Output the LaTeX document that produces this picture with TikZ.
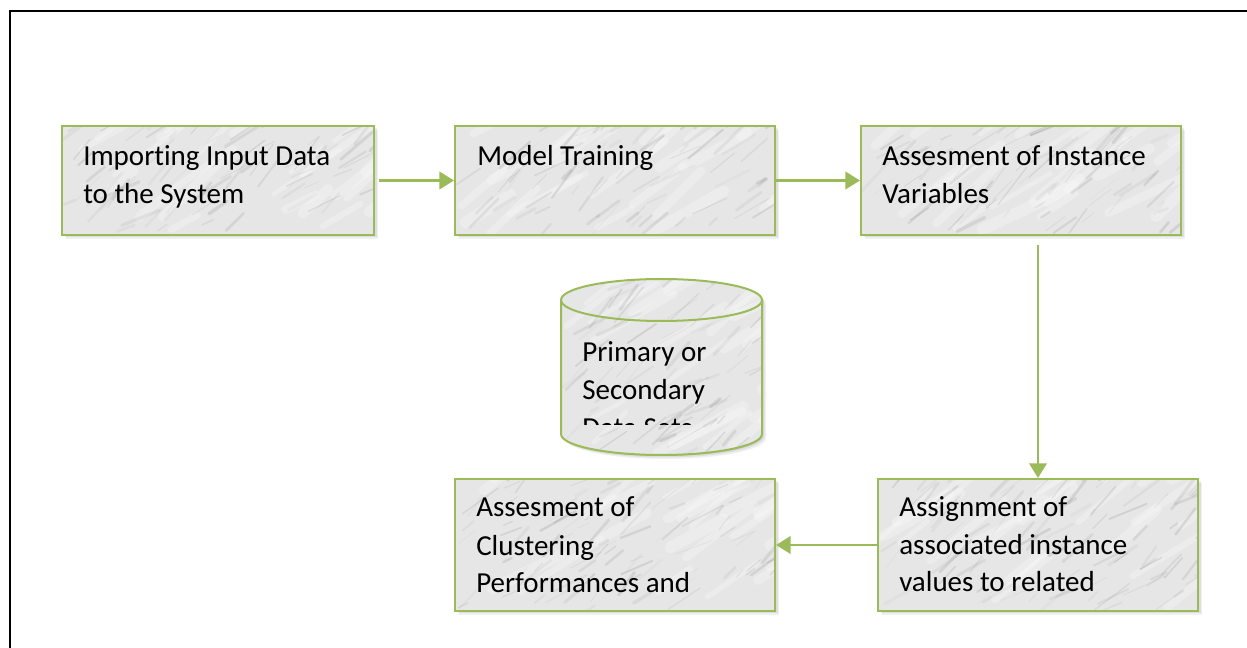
\documentclass[tikz,border=0pt]{standalone}
\usepackage{fontspec}
\setmainfont[Ligatures=CommonOff]{Carlito}
\usetikzlibrary{arrows.meta,fit,calc}
\definecolor{boxgreen}{HTML}{9BBB59}
\definecolor{marblebase}{HTML}{E6E6E6}
\tikzset{
  boxframe/.style={draw=boxgreen, line width=1.5pt, inner sep=0pt},
  txt/.style={font=\fontsize{21.75pt}{28.5pt}\selectfont, align=left, inner sep=0pt, anchor=base west, text=black},
  arr/.style={draw=boxgreen, line width=2.2pt, -{Triangle[length=11pt,width=13pt]}},
  vein/.style={black!65, line cap=round},
}
\newcommand{\veins}[4]{%
  \pgfmathsetmacro{\vn}{int(((#3)-(#1))/30*((#4)-(#2))/15)}%
  \foreach \i in {1,...,24}{%
    \pgfmathsetmacro{\px}{#1+((#3)-(#1))*rnd}%
    \pgfmathsetmacro{\py}{#2+((#4)-(#2))*rnd}%
    \pgfmathsetmacro{\ll}{30+70*rnd}%
    \pgfmathsetmacro{\ang}{-25-20*rnd}%
    \pgfmathsetmacro{\lw}{3+6*rnd}%
    \draw[white, line cap=round, line width=\lw pt, opacity=0.25] (\px,\py) -- ++(\ang:\ll);
  }%
  \foreach \i in {1,...,\vn}{%
    \pgfmathsetmacro{\px}{#1+((#3)-(#1))*rnd}%
    \pgfmathsetmacro{\py}{#2+((#4)-(#2))*rnd}%
    \pgfmathsetmacro{\ll}{8+40*rnd}%
    \pgfmathsetmacro{\lw}{0.4+2.2*rnd}%
    \pgfmathsetmacro{\op}{0.03+0.12*rnd}%
    \pgfmathsetmacro{\ang}{-20-35*rnd}%
    \draw[vein, line width=\lw pt, opacity=\op] (\px,\py) -- ++(\ang:\ll);
  }%
}
\newcommand{\marblebox}[5]{%
  \foreach \s/\o in {1/0.10,2.5/0.08,4/0.06}{%
    \fill[black, opacity=\o] (#2+\s,#3+\s) rectangle (#4+\s,#5+\s);
  }%
  \begin{scope}
    \clip (#2,#3) rectangle (#4,#5);
    \fill[marblebase] (#2,#3) rectangle (#4,#5);
    \veins{#2}{#3}{#4}{#5}
  \end{scope}
  \node[boxframe, fit={(#2,#3) (#4,#5)}] (#1) {};
}
\begin{document}
\begin{tikzpicture}[x=0.75pt,y=-0.75pt]
\useasboundingbox (0,0) rectangle (1247,648);
\pgfmathsetseed{7}
% page frame
\draw[line width=1.6pt] (10,650) -- (10,11) -- (1250,11);

% boxes
\marblebox{b1}{62}{126}{374}{235}
\marblebox{b2}{455}{126}{775}{235}
\marblebox{b3}{861}{126}{1181}{235}
\marblebox{b4}{878}{479}{1198}{611}
\marblebox{b5}{455}{479}{775}{611}

% texts (anchored at the baseline of the last line)
\node[txt] (t1) at (83,204) {Importing Input Data\\to the System};
\node[txt] (t2) at (477,166) {Model Training};
\node[txt] (t3) at (882,204) {Assesment of Instance\\Variables};
\begin{scope}
  \clip (b4.north west) rectangle ([yshift=7pt]b4.south east);
  \node[txt] (t4) at (899,630) {Assignment of\\associated instance\\values to related\\clusters};
\end{scope}
\begin{scope}
  \clip (b5.north west) rectangle ([yshift=7pt]b5.south east);
  \node[txt] (t5) at (476,631) {Assesment of\\Clustering\\Performances and\\Validation};
\end{scope}

% cylinder
\foreach \s/\o in {1/0.10,2.5/0.08,4/0.06}{%
  \fill[black, opacity=\o, shift={(\s,\s)}] (561,300) -- (561,434) arc[start angle=180,end angle=0,x radius=100.5,y radius=21] -- (762,300) arc[start angle=0,end angle=-180,x radius=100.5,y radius=21] -- cycle;
}
\begin{scope}
  \clip (561,300) -- (561,434) arc[start angle=180,end angle=0,x radius=100.5,y radius=21] -- (762,300) arc[start angle=0,end angle=-180,x radius=100.5,y radius=21] -- cycle;
  \fill[marblebase] (555,270) rectangle (770,460);
  \veins{555}{270}{770}{460}
\end{scope}
\draw[draw=boxgreen, line width=1.5pt] (561,300) -- (561,434) arc[start angle=180,end angle=0,x radius=100.5,y radius=21] -- (762,300) arc[start angle=0,end angle=-180,x radius=100.5,y radius=21] -- cycle;
\draw[draw=boxgreen, line width=1.5pt] (762,300) arc[start angle=0,end angle=180,x radius=100.5,y radius=21];
\coordinate (db) at (661.5,367);
\begin{scope}
  \clip (561,322) rectangle (762,425);
  \node[txt] (t6) at (582,438) {Primary or\\Secondary\\Data Sets};
\end{scope}

% connectors
\draw[arr] ([xshift=3pt]b1.east) -- (b2.west);
\draw[arr] (b2.east) -- (b3.west);
\draw[arr] ([yshift=-7pt]b3.south -| b4.north) -- (b4.north);
\draw[arr] (b4.west) -- (b5.east);
\end{tikzpicture}
\end{document}
